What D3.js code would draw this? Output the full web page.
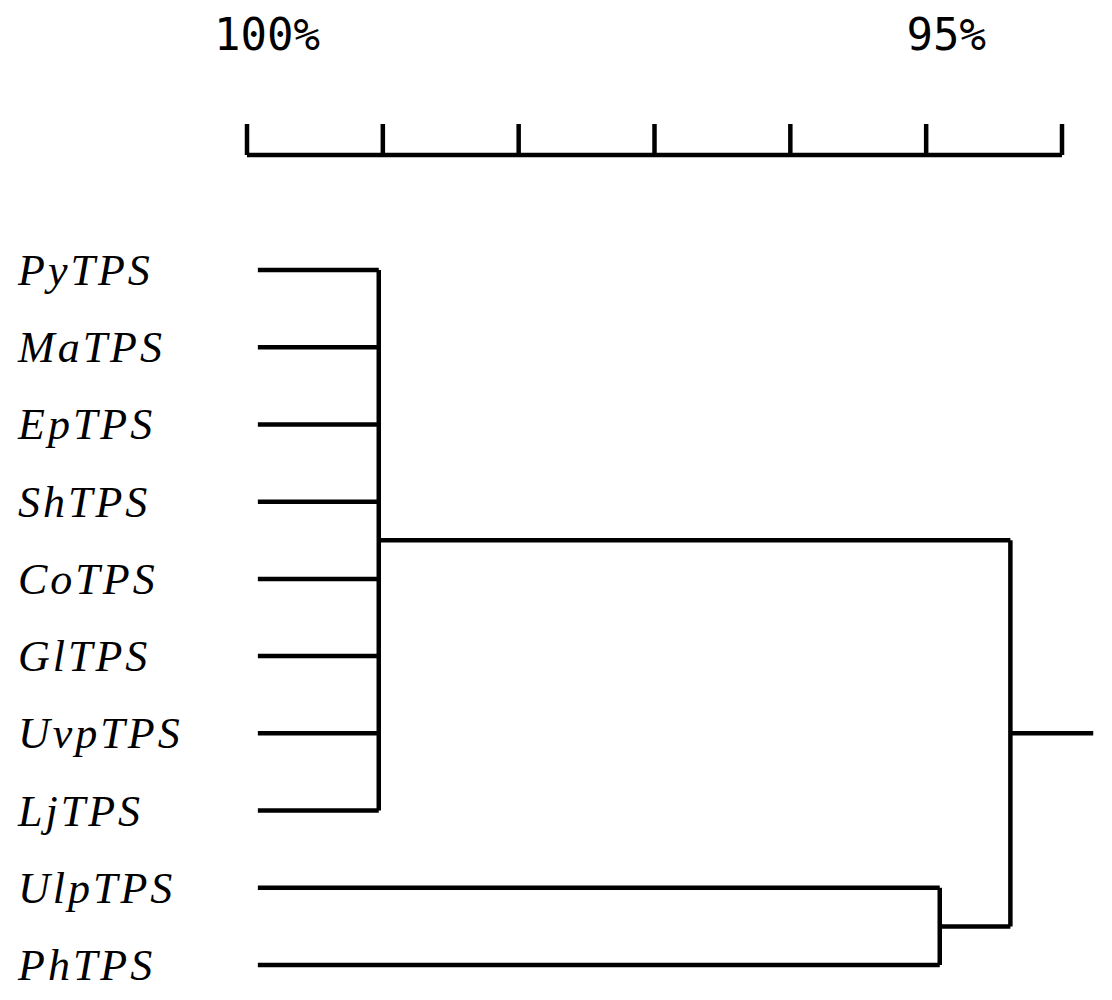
<!DOCTYPE html><html><head><meta charset="utf-8"><script src="https://d3js.org/d3.v7.min.js"></script>
<style>body{margin:0;background:#fff}</style></head><body><svg width="1112" height="1000"></svg>
<script>
const leaves=["PyTPS","MaTPS","EpTPS","ShTPS","CoTPS","GlTPS","UvpTPS","LjTPS","UlpTPS","PhTPS"];
const tickValues=[100,99,98,97,96,95,94];
const tickLabels=[{v:100,t:"100%"},{v:95,t:"95%"}];
const groupA={members:leaves.slice(0,8),sim:99.03};
const groupB={members:leaves.slice(8),sim:94.9};
const rootSim=94.38, rootEnd=93.77, leafStart=99.92;

const svg=d3.select("svg");
const x=d3.scaleLinear().domain([100,94]).range([247,1062]);
const y=d3.scalePoint().domain(leaves).range([270,965]);
const g=svg.append("g").attr("stroke","#000").attr("stroke-width",4.5).attr("fill","none");
g.append("line").attr("x1",x(100)).attr("x2",x(94)).attr("y1",155).attr("y2",155);
tickValues.forEach(v=>g.append("line").attr("x1",x(v)).attr("x2",x(v)).attr("y1",155).attr("y2",124));
tickLabels.forEach(d=>svg.append("text").attr("x",x(d.v)+20).attr("y",50).attr("text-anchor","middle")
 .attr("font-family","DejaVu Sans Mono, monospace").attr("font-size",44).text(d.t));
function cluster(gr){
  const ys=gr.members.map(m=>y(m));
  gr.members.forEach(m=>g.append("line").attr("x1",x(leafStart)).attr("x2",x(gr.sim)).attr("y1",y(m)).attr("y2",y(m)));
  g.append("line").attr("x1",x(gr.sim)).attr("x2",x(gr.sim)).attr("y1",d3.min(ys)).attr("y2",d3.max(ys));
  return d3.mean(ys);
}
const ya=cluster(groupA), yb=cluster(groupB);
[[groupA,ya],[groupB,yb]].forEach(([gr,yy])=>g.append("line").attr("x1",x(gr.sim)).attr("x2",x(rootSim)).attr("y1",yy).attr("y2",yy));
g.append("line").attr("x1",x(rootSim)).attr("x2",x(rootSim)).attr("y1",ya).attr("y2",yb);
g.append("line").attr("x1",x(rootSim)).attr("x2",x(rootEnd)).attr("y1",(ya+yb)/2).attr("y2",(ya+yb)/2);
leaves.forEach(l=>svg.append("text").attr("x",18).attr("y",y(l)+15).attr("font-family","Liberation Serif, serif")
 .attr("font-style","italic").attr("font-size",44).attr("letter-spacing",3).text(l));
</script></body></html>
